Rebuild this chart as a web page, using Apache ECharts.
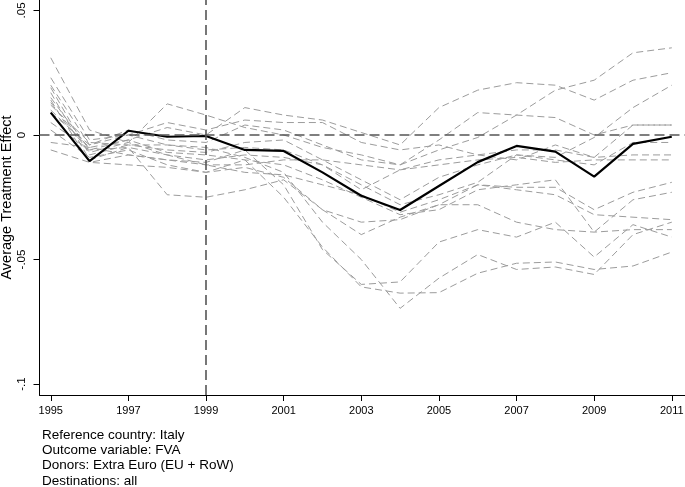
<!DOCTYPE html>
<html>
<head>
<meta charset="utf-8">
<script src="https://cdn.jsdelivr.net/npm/echarts@6/dist/echarts.min.js"></script>
<style>
html,body{margin:0;padding:0;background:#fff;}
#chart{width:685px;height:487px;}
</style>
</head>
<body>
<div id="chart"></div>
<script>
const years = [1995,1996,1997,1998,1999,2000,2001,2002,2003,2004,2005,2006,2007,2008,2009,2010,2011];
const xTicks = [1995,1997,1999,2001,2003,2005,2007,2009,2011];
const yTicks = [-0.1,-0.05,0,0.05];
const yTickLabels = {"-0.1":"-.1","-0.05":"-.05","0":"0","0.05":".05"};
const treatYear = 1999;

const treated = [0.009,-0.0105,0.0017,-0.0007,-0.0004,-0.006,-0.0064,-0.015,-0.0244,-0.0301,-0.0205,-0.0109,-0.0044,-0.0067,-0.0167,-0.0036,-0.0007];

const placebo01 = [0.020,-0.004,0.002,-0.002,-0.003,0.004,0.002,-0.004,-0.010,-0.012,-0.006,-0.001,0.008,0.018,0.022,0.033,0.035];
const placebo02 = [0.015,-0.006,-0.002,0.003,0.000,0.011,0.008,0.006,0.001,-0.004,0.011,0.018,0.021,0.020,0.014,0.022,0.025];
const placebo03 = [0.012,-0.003,-0.004,-0.006,-0.007,-0.003,-0.002,-0.010,-0.018,-0.026,-0.017,-0.012,-0.008,-0.009,-0.001,0.011,0.020];
const placebo04 = [0.031,0.002,-0.003,0.0125,0.008,0.003,0.000,-0.005,-0.008,-0.012,-0.002,0.009,0.008,0.007,0.000,0.004,0.004];
const placebo05 = [0.023,-0.002,0.000,0.005,0.002,0.006,0.005,0.005,-0.003,-0.006,-0.004,-0.008,-0.010,-0.004,-0.009,0.004,0.004];
const placebo06 = [0.019,-0.008,-0.004,-0.004,-0.006,-0.005,-0.006,-0.012,-0.020,-0.028,-0.024,-0.019,-0.008,-0.010,-0.012,-0.003,-0.003];
const placebo07 = [0.017,-0.010,-0.005,-0.008,-0.010,-0.008,-0.009,-0.012,-0.022,-0.014,-0.010,-0.008,-0.006,-0.006,-0.009,-0.008,-0.008];
const placebo08 = [0.014,-0.011,-0.008,-0.010,-0.012,-0.012,-0.010,-0.010,-0.012,-0.014,-0.012,-0.010,-0.009,-0.011,-0.010,-0.010,-0.010];
const placebo09 = [0.013,-0.007,-0.003,-0.008,-0.012,-0.015,-0.016,-0.020,-0.024,-0.031,-0.026,-0.020,-0.021,-0.021,-0.030,-0.023,-0.019];
const placebo10 = [0.010,-0.005,-0.002,-0.007,-0.008,-0.010,-0.012,-0.018,-0.025,-0.032,-0.030,-0.022,-0.020,-0.018,-0.039,-0.026,-0.023];
const placebo11 = [0.005,-0.006,-0.005,-0.024,-0.025,-0.022,-0.018,-0.030,-0.035,-0.034,-0.028,-0.020,-0.022,-0.024,-0.032,-0.033,-0.034];
const placebo12 = [0.002,-0.009,-0.006,-0.012,-0.015,-0.013,-0.017,-0.030,-0.040,-0.033,-0.028,-0.028,-0.035,-0.038,-0.039,-0.038,-0.038];
const placebo13 = [-0.003,-0.005,-0.008,-0.010,-0.011,-0.006,-0.020,-0.046,-0.060,-0.059,-0.043,-0.038,-0.041,-0.035,-0.049,-0.036,-0.041];
const placebo14 = [-0.006,-0.011,-0.012,-0.013,-0.015,-0.010,-0.025,-0.045,-0.061,-0.0635,-0.0633,-0.0555,-0.0515,-0.051,-0.054,-0.0526,-0.047];
const placebo15 = [0.009,-0.004,0.000,-0.004,-0.005,-0.009,-0.015,-0.035,-0.050,-0.0696,-0.0575,-0.048,-0.054,-0.053,-0.056,-0.040,-0.035];

const placebos = [placebo01,placebo02,placebo03,placebo04,placebo05,placebo06,placebo07,placebo08,placebo09,placebo10,placebo11,placebo12,placebo13,placebo14,placebo15];

const footnotes = ["Reference country: Italy","Outcome variable: FVA","Donors: Extra Euro (EU + RoW)","Destinations: all"];

const font = "'Liberation Sans', Arial, sans-serif";
const chart = echarts.init(document.getElementById('chart'), null, {renderer:'canvas'});

const series = placebos.map(function(p){
  return {
    type:'line', data: years.map(function(y,i){return [y,p[i]];}),
    symbol:'none', silent:true, z:2,
    lineStyle:{color:'#9c9c9c', width:1, type:[7,4]}
  };
});
series.push({
  type:'line', data:[], symbol:'none', silent:true, z:3,
  markLine:{
    silent:true, symbol:['none','none'], label:{show:false},
    lineStyle:{color:'#555', width:1.6, type:[10,5]},
    data:[{yAxis:0},{xAxis:treatYear}]
  }
});
series.push({
  type:'line', data: years.map(function(y,i){return [y,treated[i]];}),
  symbol:'none', silent:true, z:4,
  lineStyle:{color:'#000', width:2.2, type:'solid'}
});

chart.setOption({
  animation:false,
  backgroundColor:'#fff',
  grid:{left:39.5, right:0, top:0, bottom:92, containLabel:false, outerBoundsMode:'none'},
  xAxis:{
    type:'value', min:1994.71, max:2011.34,
    axisLine:{show:true, onZero:false, lineStyle:{color:'#000', width:1}},
    axisTick:{show:true, length:6, lineStyle:{color:'#000'}, customValues:xTicks},
    axisLabel:{show:true, margin:10, color:'#000', fontFamily:font, fontSize:11, customValues:xTicks, formatter:function(v){return String(v);}},
    splitLine:{show:false}
  },
  yAxis:{
    type:'value', min:-0.1044, max:0.0542,
    name:'Average Treatment Effect', nameLocation:'middle', nameGap:25, nameMoveOverlap:false,
    nameTextStyle:{color:'#000', fontFamily:font, fontSize:14.5},
    axisLine:{show:true, onZero:false, lineStyle:{color:'#000', width:1}},
    axisTick:{show:true, length:6, lineStyle:{color:'#000'}, customValues:yTicks},
    axisLabel:{show:true, rotate:90, margin:12, color:'#000', fontFamily:font, fontSize:11.5, customValues:yTicks,
      formatter:function(v){var k=String(Math.round(v*100)/100); return yTickLabels[k]!==undefined?yTickLabels[k]:k;}},
    splitLine:{show:false}
  },
  graphic: footnotes.map(function(t,i){
    return {type:'text', left:42, top:428+i*15.3, silent:true,
      style:{text:t, fill:'#000', font:'13.5px '+font}};
  }),
  series:series
});
</script>
</body>
</html>
